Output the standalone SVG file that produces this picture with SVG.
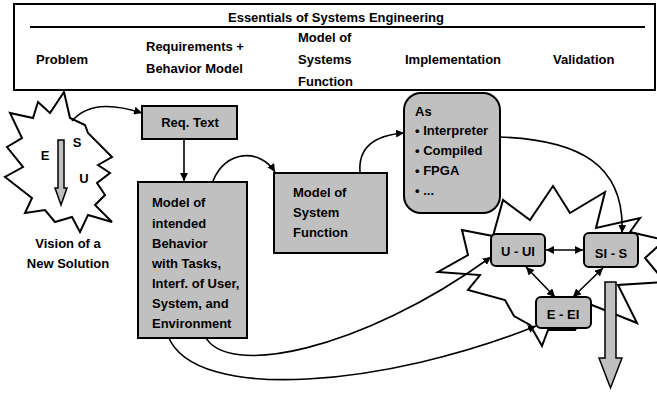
<svg xmlns="http://www.w3.org/2000/svg" width="657" height="394" viewBox="0 0 657 394">
<defs>
<marker id="ah" viewBox="0 0 10 10" refX="10" refY="5" markerWidth="8" markerHeight="8" markerUnits="userSpaceOnUse" orient="auto-start-reverse"><path d="M0,0 L10,5 L0,10 z" fill="#000"/></marker>
<style>
text{font-family:"Liberation Sans",Arial,sans-serif;font-weight:bold;font-size:13px;fill:#000}
.mid{text-anchor:middle}
.box{fill:#c0c0c0;stroke:#000;stroke-width:2}
.star{fill:#fff;stroke:#000;stroke-width:2;stroke-linejoin:miter}
.conn{fill:none;stroke:#000;stroke-width:1.6;marker-end:url(#ah)}
.dbl{fill:none;stroke:#000;stroke-width:1.6;marker-end:url(#ah);marker-start:url(#ah)}
.garrow{fill:#c0c0c0;stroke:#000;stroke-width:1.5}
</style>
</defs>
<rect width="657" height="394" fill="#fff"/>
<g id="header">
<rect x="14" y="4" width="641" height="86" fill="#fff" stroke="#000" stroke-width="2"/>
<text x="336" y="22" class="mid">Essentials of Systems Engineering</text>
<line x1="30" y1="27" x2="645" y2="27" stroke="#000" stroke-width="2"/>
<text x="36" y="64">Problem</text>
<text x="146" y="51">Requirements +</text>
<text x="146" y="73">Behavior Model</text>
<text x="298" y="42">Model of</text>
<text x="298" y="64">Systems</text>
<text x="298" y="86">Function</text>
<text x="405" y="64">Implementation</text>
<text x="553" y="64">Validation</text>
</g>
<g id="vision">
<polygon class="star" points="64,92 70,118 85,125 88,133 112,157 98,165 110,173 97,183 105,195 95,205 112,222 88,215 80,232 72,217 55,222 45,210 25,213 32,198 5,177 23,167 7,147 22,138 10,113 33,118 38,102 50,113"/>
<polygon class="garrow" points="58,140 64,140 64,188 67,188 61,205 55,188 58,188"/>
<text x="45" y="160" class="mid">E</text>
<text x="77" y="147" class="mid">S</text>
<text x="84" y="183" class="mid">U</text>
<text x="68" y="248" class="mid">Vision of a</text>
<text x="68" y="268" class="mid">New Solution</text>
</g>
<g id="validation-star">
<polygon class="star" points="493,236 503,200 530,220 553,186 570,213 605,192 596,228 640,218 630,232 665,240 645,258 665,282 618,285 637,323 592,305 575,330 548,330 542,346 530,325 514,316 505,300 468,290 480,275 438,272 468,255 462,230"/>
</g>
<g id="connectors">
<path class="conn" d="M72,121 C90,100 120,106 142,113"/>
<path class="conn" d="M184,139 L184,181"/>
<path class="conn" d="M213,181 C225,150 260,148 275,172"/>
<path class="conn" d="M360,172 C358,145 378,135 404,133"/>
<path class="conn" d="M500,137 C580,140 625,165 622,233"/>
<path class="conn" d="M205,336 C225,378 360,352 491,257"/>
<path class="conn" d="M168,336 C195,405 390,385 536,326"/>
<path class="dbl" d="M546,250 L583,250"/>
<path class="dbl" d="M526,267 L555,297"/>
<path class="dbl" d="M603,268 L573,297"/>
</g>
<g id="req-text">
<rect class="box" x="142" y="106" width="95" height="33"/>
<text x="190" y="127" class="mid">Req. Text</text>
</g>
<g id="behavior-model">
<rect class="box" x="138" y="182" width="109" height="156"/>
<text x="152" y="207">Model of</text>
<text x="152" y="228">intended</text>
<text x="152" y="248">Behavior</text>
<text x="152" y="268">with Tasks,</text>
<text x="152" y="288">Interf. of User,</text>
<text x="152" y="308">System, and</text>
<text x="152" y="328">Environment</text>
</g>
<g id="system-function">
<rect class="box" x="274" y="173" width="113" height="80"/>
<text x="293" y="197">Model of</text>
<text x="293" y="217">System</text>
<text x="293" y="237">Function</text>
</g>
<g id="implementation">
<rect class="box" x="404" y="93" width="96" height="120" rx="17"/>
<text x="415" y="116">As</text>
<text x="415" y="135">• Interpreter</text>
<text x="415" y="155">• Compiled</text>
<text x="415" y="175">• FPGA</text>
<text x="415" y="195">• ...</text>
</g>
<g id="u-ui">
<rect class="box" x="491" y="234" width="54" height="32" rx="5"/>
<text x="518" y="256" class="mid">U - UI</text>
</g>
<g id="si-s">
<rect class="box" x="584" y="233" width="54" height="34" rx="5"/>
<text x="611" y="258" class="mid">SI - S</text>
</g>
<g id="e-ei">
<rect class="box" x="536" y="297" width="55" height="31" rx="5"/>
<text x="563" y="319" class="mid">E - EI</text>
</g>
<g id="validation-arrow">
<polygon class="garrow" points="605,282 616,282 616,358 622,358 610.5,388 599,358 605,358"/>
</g>
</svg>
